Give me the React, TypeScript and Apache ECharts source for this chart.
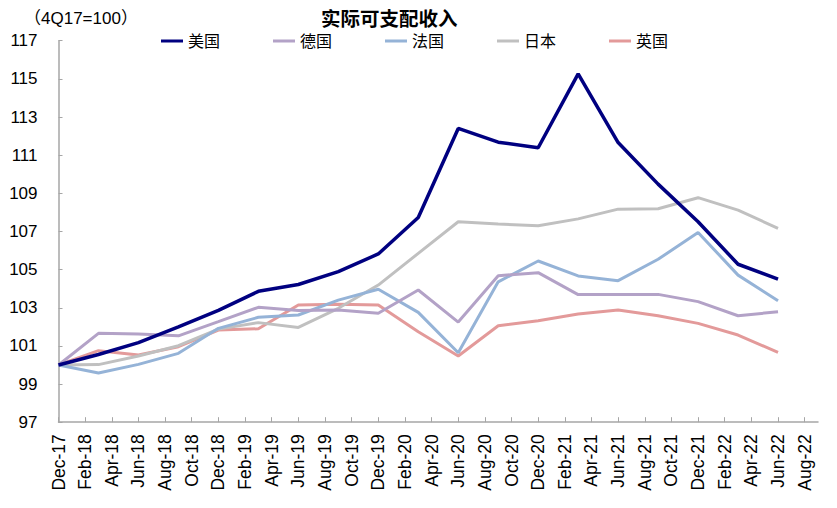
import React, { useEffect, useRef } from "react";
import * as echarts from "echarts";

const categories = [
  "Dec-17",
  "Jan-18", "Feb-18", "Mar-18", "Apr-18", "May-18", "Jun-18", "Jul-18", "Aug-18", "Sep-18", "Oct-18", "Nov-18", "Dec-18",
  "Jan-19", "Feb-19", "Mar-19", "Apr-19", "May-19", "Jun-19", "Jul-19", "Aug-19", "Sep-19", "Oct-19", "Nov-19", "Dec-19",
  "Jan-20", "Feb-20", "Mar-20", "Apr-20", "May-20", "Jun-20", "Jul-20", "Aug-20", "Sep-20", "Oct-20", "Nov-20", "Dec-20",
  "Jan-21", "Feb-21", "Mar-21", "Apr-21", "May-21", "Jun-21", "Jul-21", "Aug-21", "Sep-21", "Oct-21", "Nov-21", "Dec-21",
  "Jan-22", "Feb-22", "Mar-22", "Apr-22", "May-22", "Jun-22", "Jul-22", "Aug-22", "Sep-22",
];

const quarters = [
  "Dec-17", "Mar-18", "Jun-18", "Sep-18", "Dec-18", "Mar-19", "Jun-19", "Sep-19", "Dec-19",
  "Mar-20", "Jun-20", "Sep-20", "Dec-20", "Mar-21", "Jun-21", "Sep-21", "Dec-21", "Mar-22", "Jun-22",
];

const usa = [100, 100.55, 101.17, 102.0, 102.86, 103.86, 104.22, 104.89, 105.82, 107.73, 112.4, 111.68, 111.39, 115.26, 111.66, 109.48, 107.51, 105.28, 104.5];
const germany = [100, 101.66, 101.62, 101.53, 102.27, 103.02, 102.86, 102.88, 102.71, 103.93, 102.25, 104.68, 104.84, 103.69, 103.7, 103.7, 103.32, 102.58, 102.79];
const france = [100, 99.58, 100.03, 100.61, 101.92, 102.5, 102.62, 103.4, 103.97, 102.76, 100.64, 104.36, 105.45, 104.67, 104.42, 105.54, 106.95, 104.71, 103.37];
const japan = [100, 100.02, 100.47, 101.01, 101.88, 102.22, 101.97, 102.97, 104.19, 105.85, 107.51, 107.39, 107.3, 107.66, 108.17, 108.19, 108.77, 108.12, 107.16];
const uk = [100, 100.75, 100.52, 100.96, 101.83, 101.9, 103.14, 103.19, 103.14, 101.74, 100.47, 102.06, 102.32, 102.67, 102.88, 102.58, 102.18, 101.57, 100.66];

const seriesNames = ["美国", "德国", "法国", "日本", "英国"];
const seriesValues = [usa, germany, france, japan, uk];
const colors = ["#000080", "#B3A2C7", "#95B3D7", "#C0C0C0", "#E39A9A"];

const FONT = "'Liberation Sans', Arial, 'Noto Sans CJK SC', sans-serif";

export default function App() {
  const ref = useRef<HTMLDivElement>(null);
  useEffect(() => {
    document.body.style.margin = "0";
    if (!ref.current) return;
    const chart = echarts.init(ref.current, undefined, { renderer: "svg" });
    const toData = (vals: number[]) =>
      quarters.map((q, i) => [categories.indexOf(q), vals[i]]);
    chart.setOption({
      animation: false,
      backgroundColor: "#ffffff",
      title: {
        text: "实际可支配收入",
        left: 316,
        top: 4,
        textStyle: { fontSize: 19.5, fontWeight: "bold", color: "#000", fontFamily: FONT },
      },
      graphic: [
        {
          type: "text",
          left: 24,
          top: 10,
          style: { text: "（4Q17=100）", fill: "#000", font: `17px ${FONT}` },
        },
      ],
      legend: {
        left: 156,
        top: 28,
        icon: "rect",
        itemWidth: 22,
        itemHeight: 3,
        itemGap: 53,
        textStyle: { fontSize: 16, color: "#000", fontFamily: FONT },
        data: seriesNames,
      },
      grid: { left: 58.5, right: 19, top: 40.7, bottom: 85.8, containLabel: false },
      xAxis: {
        type: "category",
        data: categories,
        boundaryGap: false,
        axisLine: { lineStyle: { color: "#A6A6A6", width: 1.5 } },
        axisTick: { interval: 1, inside: true, length: 5, lineStyle: { color: "#A6A6A6" } },
        axisLabel: {
          interval: 1,
          rotate: 90,
          margin: 12,
          fontSize: 17.5,
          color: "#000",
          fontFamily: FONT,
        },
        splitLine: { show: false },
      },
      yAxis: {
        type: "value",
        min: 97,
        max: 117,
        interval: 2,
        axisLine: { show: true, lineStyle: { color: "#A6A6A6", width: 1.5 } },
        axisTick: { show: true, inside: true, length: 4, lineStyle: { color: "#A6A6A6" } },
        axisLabel: { margin: 21, fontSize: 17, color: "#000", fontFamily: FONT },
        splitLine: { show: false },
      },
      series: seriesNames.map((name, k) => ({
        name,
        type: "line",
        data: toData(seriesValues[k]),
        showSymbol: false,
        symbol: "none",
        lineStyle: { color: colors[k], width: k === 0 ? 3.5 : 3 },
        itemStyle: { color: colors[k] },
        z: 10 - k,
      })),
    });
    return () => chart.dispose();
  }, []);
  return <div ref={ref} style={{ width: 837, height: 508 }} />;
}
